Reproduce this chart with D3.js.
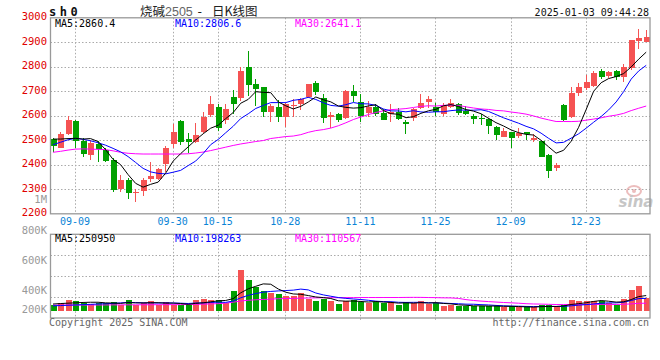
<!DOCTYPE html>
<html>
<head>
<meta charset="utf-8">
<script src="https://cdn.jsdelivr.net/npm/d3@7"></script>
<style>
  body { margin: 0; background: #fff; }
  svg { display: block; }
</style>
</head>
<body>
<script>
// daily bars, 2024-09-04 .. 2025-01-03
const dates = ["09-04","09-05","09-06","09-09","09-10","09-11","09-12","09-13","09-18","09-19","09-20","09-23","09-24","09-25","09-26","09-27","09-30",
  "10-08","10-09","10-10","10-11","10-14","10-15","10-16","10-17","10-18","10-21","10-22","10-23","10-24","10-25","10-28","10-29","10-30","10-31",
  "11-01","11-04","11-05","11-06","11-07","11-08","11-11","11-12","11-13","11-14","11-15","11-18","11-19","11-20","11-21","11-22","11-25","11-26","11-27","11-28","11-29",
  "12-02","12-03","12-04","12-05","12-06","12-09","12-10","12-11","12-12","12-13","12-16","12-17","12-18","12-19","12-20","12-23","12-24","12-25","12-26","12-27","12-30","12-31",
  "01-02","01-03"];
const opens = [2504,2470,2525,2578,2497,2440,2486,2459,2418,2300, 2337,2285,2293,2342,2342,2402,2484,2578,2504,2495,
  2533,2603,2635,2583,2676,2671,2798,2730,2716,2614, 2636,2594,2642,2647,2678,2733,2671,2594,2606,2592,
  2701,2655,2610,2635,2610,2607,2614,2573,2592,2633, 2655,2635,2606,2636,2647,2621,2598,2592,2586,2553,
  2515,2533,2519,2533,2501,2497,2440,2388,2644,2594, 2693,2713,2722,2783,2764,2783,2760,2794,2905,2903];
const highs = [2511,2535,2598,2582,2508,2501,2497,2467,2427,2359, 2345,2300,2345,2411,2385,2478,2565,2583,2528,2569,
  2617,2682,2647,2647,2705,2801,2865,2749,2719,2647, 2665,2654,2667,2671,2731,2742,2688,2614,2610,2705,
  2726,2688,2661,2647,2628,2647,2631,2583,2633,2688, 2682,2651,2651,2667,2651,2641,2606,2606,2592,2560,
  2549,2535,2549,2535,2524,2497,2444,2409,2647,2716, 2733,2767,2784,2791,2783,2787,2812,2908,2953,2950];
const lows = [2454,2467,2520,2467,2433,2420,2410,2413,2288,2290, 2259,2250,2273,2330,2340,2372,2467,2481,2447,2490,
  2529,2594,2538,2565,2607,2661,2682,2641,2594,2576, 2576,2553,2597,2624,2671,2685,2569,2549,2576,2587,
  2658,2573,2594,2601,2583,2573,2583,2524,2579,2628, 2633,2599,2601,2631,2603,2603,2565,2563,2524,2501,
  2512,2467,2511,2501,2492,2431,2345,2375,2579,2590, 2680,2706,2718,2749,2753,2746,2739,2787,2873,2903];
const closes = [2478,2525,2582,2497,2443,2488,2465,2417,2297,2337, 2284,2287,2339,2354,2382,2467,2533,2492,2492,2522,
  2594,2647,2552,2627,2647,2783,2726,2709,2614,2640, 2594,2647,2645,2667,2729,2696,2590,2602,2583,2701,
  2681,2599,2637,2607,2583,2617,2587,2567,2628,2651, 2669,2617,2640,2651,2612,2606,2587,2586,2559,2522,
  2538,2508,2529,2524,2508,2431,2375,2399,2583,2692, 2716,2737,2773,2757,2777,2757,2798,2908,2916,2920];
const volumes = [93000,126000,176000,159000,126000,110000,126000,126000,143000,99000,
  176000,99000,126000,159000,99000,143000,99000,93000,93000,176000,
  192000,176000,176000,126000,324000,671000,506000,385000,324000,297000,
  275000,242000,242000,297000,192000,159000,192000,165000,110000,159000,
  176000,149000,121000,149000,121000,143000,93000,143000,126000,159000,
  110000,126000,77000,93000,77000,77000,77000,77000,77000,77000,
  55000,77000,55000,55000,55000,93000,93000,55000,93000,176000,
  165000,165000,165000,165000,121000,93000,192000,346000,412000,204000];

// moving-average values before enough bars are on screen
const ma5Head = [2505,2505,2507,2508];
const ma10Head = [2482,2492,2502,2508,2504,2498,2490,2480,2467];
const ma30Head = [2451,2455,2460,2464,2465,2464,2463,2462,2457,2451,2447,2445,2444,2444,2444,
  2444,2444,2444,2445,2448,2452,2458,2465,2472,2479,2485,2490,2495,2499];
const vma5Head = [110000,118000,124000,130000];
const vma10Head = [80000,85000,90000,95000,100000,105000,110000,115000,120000];
const vma30Head = [92000,92000,93000,93000,94000,94000,95000,95000,96000,96000,97000,97000,98000,98000,99000,
  99000,100000,100000,102000,105000,108000,112000,116000,125000,140000,160000,172000,180000,186000];

const dateTicks = ["09-09","09-30","10-15","10-28","11-11","11-25","12-09","12-23"];
const priceTicks = [2200,2300,2400,2500,2600,2700,2800,2900,3000];
const volTicks = [1000000,800000,600000,400000,200000];

const RED = "#f55353", GREEN = "#00a000";
const MONO = "'DejaVu Sans Mono', monospace";

const svg = d3.select("body").append("svg")
  .attr("width", 660).attr("height", 360)
  .style("font-family", MONO);

const left = 50.5, right = 650;
const x = d3.scaleLinear().domain([0, dates.length - 1]).range([52.5, 645.7]);
const y = d3.scaleLinear().domain([2200, 3000]).range([213.8, 17.8]);
const vy = d3.scaleLinear().domain([0, 1260000]).range([310.7, 234.3]);
const vTop = 234.3, vBot = 318;
// the grey volume labels on the left sit on their own spacing
const vLabel = d3.scaleLinear().domain([400000, 1000000]).range([294, 203.3]);

function movingAvg(values, n, head) {
  return values.map((v, i) => i < n - 1 ? head[i] : d3.mean(values.slice(i - n + 1, i + 1)));
}
const ma5 = movingAvg(closes, 5, ma5Head);
const ma10 = movingAvg(closes, 10, ma10Head);
const ma30 = movingAvg(closes, 30, ma30Head);
const vma5 = movingAvg(volumes, 5, vma5Head);
const vma10 = movingAvg(volumes, 10, vma10Head);
const vma30 = movingAvg(volumes, 30, vma30Head);

const grid = svg.append("g")
  .attr("stroke", "#aaa").attr("stroke-dasharray", "1.5,2").attr("fill", "none");

// horizontal grid, price pane
grid.selectAll(".hp").data(priceTicks.slice(1, -1)).enter().append("line")
  .attr("x1", left).attr("x2", right)
  .attr("y1", d => Math.round(y(d)) + 0.5).attr("y2", d => Math.round(y(d)) + 0.5);

// horizontal grid, volume pane
grid.selectAll(".hv").data([1, 2, 3]).enter().append("line")
  .attr("x1", left).attr("x2", right)
  .attr("y1", d => Math.round(vTop + (vBot - vTop) * d / 4) + 0.5)
  .attr("y2", d => Math.round(vTop + (vBot - vTop) * d / 4) + 0.5);

// vertical grid at the date labels
dateTicks.forEach(t => {
  const xi = Math.round(x(dates.indexOf(t))) + 0.5;
  grid.append("line").attr("x1", xi).attr("x2", xi).attr("y1", y(3000)).attr("y2", y(2200));
  grid.append("line").attr("x1", xi).attr("x2", xi).attr("y1", vTop).attr("y2", vBot + 2);
});

// candles
const candles = svg.append("g").attr("shape-rendering", "crispEdges");
dates.forEach((d, i) => {
  const up = closes[i] >= opens[i];
  const col = up ? RED : GREEN;
  const cx = Math.round(x(i));
  candles.append("line")
    .attr("x1", cx + 0.5).attr("x2", cx + 0.5)
    .attr("y1", y(highs[i])).attr("y2", y(lows[i]))
    .attr("stroke", col);
  const top = y(Math.max(opens[i], closes[i]));
  const bot = y(Math.min(opens[i], closes[i]));
  candles.append("rect")
    .attr("x", cx - 2.5).attr("width", 6)
    .attr("y", top).attr("height", Math.max(1, bot - top))
    .attr("fill", col);
  // volume bar
  candles.append("rect")
    .attr("x", cx - 2.5).attr("width", 6)
    .attr("y", vy(volumes[i])).attr("height", vy(0) - vy(volumes[i]))
    .attr("fill", col);
});

// average lines
const priceLine = d3.line().x((d, i) => x(i) + 0.5).y(d => y(d));
const volLine = d3.line().x((d, i) => x(i) + 0.5).y(d => vy(d));
[[ma30, "#ff00ff"], [ma10, "#0000ff"], [ma5, "#000"]].forEach(([s, c]) => {
  svg.append("path").attr("d", priceLine(s)).attr("fill", "none").attr("stroke", c).attr("stroke-width", 1);
});
[[vma30, "#ff00ff"], [vma10, "#0000ff"], [vma5, "#000"]].forEach(([s, c]) => {
  svg.append("path").attr("d", volLine(s)).attr("fill", "none").attr("stroke", c).attr("stroke-width", 1);
});

// frames
svg.append("rect").attr("x", left).attr("y", y(3000)).attr("width", right - left).attr("height", y(2200) - y(3000))
  .attr("fill", "none").attr("stroke", "#999").attr("stroke-width", 1.3);
svg.append("rect").attr("x", left).attr("y", vTop).attr("width", right - left).attr("height", vBot - vTop)
  .attr("fill", "none").attr("stroke", "#999").attr("stroke-width", 1.3);

// price labels
svg.selectAll(".pl").data(priceTicks).enter().append("text")
  .attr("x", 47).attr("y", d => y(d) + 2.5)
  .attr("text-anchor", "end").attr("fill", "#e00000").attr("font-size", 10.5)
  .text(d => d);

// volume labels
svg.selectAll(".vl").data(volTicks).enter().append("text")
  .attr("x", 47).attr("y", d => Math.min(vLabel(d), 313.3))
  .attr("text-anchor", "end").attr("fill", "#999").attr("font-size", 10.5)
  .text(d => d >= 1000000 ? (d / 1000000) + "M" : (d / 1000) + "K");

// date labels
svg.selectAll(".dl").data(dateTicks).enter().append("text")
  .attr("x", d => x(dates.indexOf(d))).attr("y", 225)
  .attr("text-anchor", "middle").attr("fill", "#0a84d6").attr("font-size", 10)
  .text(d => d);

// legends
const legend = (yy, items) => items.forEach(([t, c, xx]) =>
  svg.append("text").attr("x", xx).attr("y", yy).attr("fill", c).attr("font-size", 10).text(t));
legend(27.3, [["MA5:2860.4", "#000", 55], ["MA10:2806.6", "#0000ff", 175], ["MA30:2641.1", "#ff00ff", 295]]);
legend(241.7, [["MA5:250950", "#000", 55], ["MA10:198263", "#0000ff", 175], ["MA30:110567", "#ff00ff", 295]]);

// header
svg.append("text").attr("x", 49).attr("y", 16).attr("font-size", 12).attr("font-weight", "bold")
  .attr("letter-spacing", 3.5).attr("fill", "#111").text("sh0");
const title = svg.append("g").attr("font-size", 12.5).attr("fill", "#222");
title.append("text").attr("x", 140).attr("y", 15.5).attr("font-family", "'Noto Sans CJK SC'").text("烧碱");
title.append("text").attr("x", 165).attr("y", 15.5).attr("font-family", "'Liberation Sans', sans-serif")
  .attr("fill", "#666").text("2505");
title.append("text").attr("x", 196).attr("y", 15.5).attr("font-family", MONO).text("-");
title.append("text").attr("x", 212).attr("y", 15.5).attr("font-family", "'Noto Sans CJK SC'").text("日K线图");
svg.append("text").attr("x", 649).attr("y", 15.7).attr("text-anchor", "end").attr("font-size", 10)
  .attr("fill", "#111").text("2025-01-03 09:44:28");

// footer
svg.append("text").attr("x", 49).attr("y", 325.5).attr("font-size", 10).attr("fill", "#666")
  .text("Copyright 2025 SINA.COM");
svg.append("text").attr("x", 649).attr("y", 325.5).attr("text-anchor", "end").attr("font-size", 10)
  .attr("fill", "#666").text("http://finance.sina.com.cn");

// sina watermark
const wm = svg.append("g").attr("opacity", 0.55);
wm.append("ellipse").attr("cx", 634).attr("cy", 191).attr("rx", 7).attr("ry", 5)
  .attr("fill", "none").attr("stroke", "#d88").attr("stroke-width", 2);
wm.append("circle").attr("cx", 634).attr("cy", 191).attr("r", 2).attr("fill", "#d88");
wm.append("text").attr("x", 636).attr("y", 207).attr("text-anchor", "middle")
  .attr("font-family", "'DejaVu Sans', sans-serif").attr("font-size", 15).attr("font-weight", "bold")
  .attr("font-style", "italic").attr("fill", "#999").text("sina");
</script>
</body>
</html>
